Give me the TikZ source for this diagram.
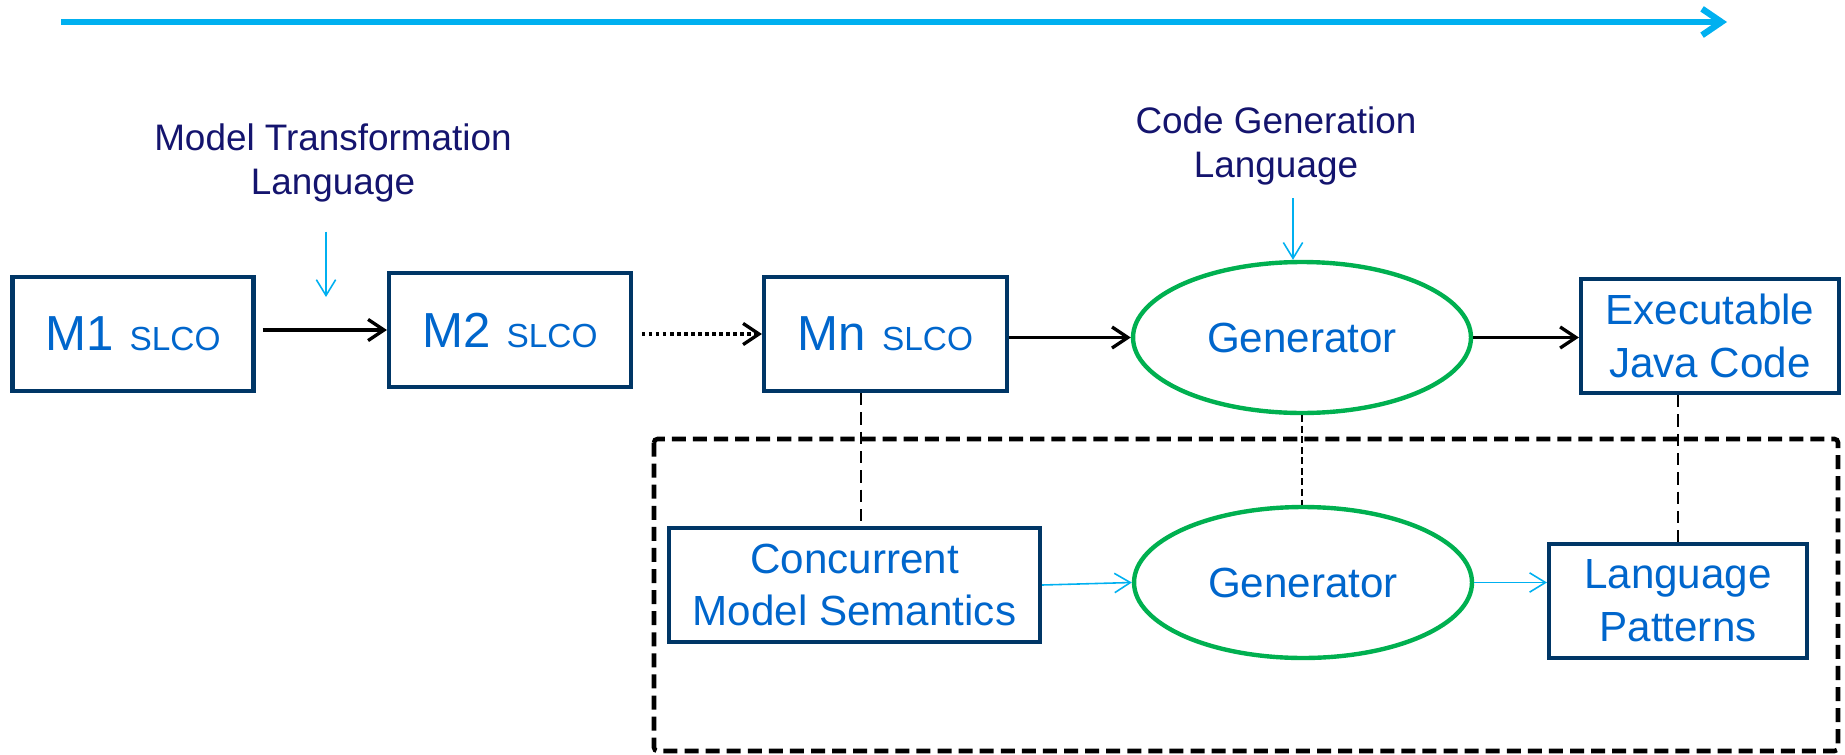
\documentclass[tikz,border=0pt]{standalone}
\usepackage{fontspec}
\setmainfont{Liberation Sans}
\usetikzlibrary{arrows.meta}
\usetikzlibrary{shapes.geometric}
\usetikzlibrary{positioning}
\definecolor{boxnavy}{RGB}{0,54,102}
\definecolor{txtblue}{RGB}{0,102,204}
\definecolor{lblnavy}{RGB}{20,20,110}
\definecolor{gengreen}{RGB}{0,176,80}
\definecolor{lineblue}{RGB}{0,176,240}
\tikzset{modelbox/.style={ % Blue framed boxes
           draw=boxnavy,
           line width=2.4pt,
           text=txtblue,
           align=center,
           inner sep=0pt,
           minimum height=2.28cm,
           font=\fontsize{24}{30}\selectfont},
         genell/.style={ % Green generator ellipses
           ellipse,
           draw=gengreen,
           line width=2.5pt,
           text=txtblue,
           inner sep=0pt,
           minimum width=6.76cm,
           minimum height=3.02cm,
           font=\fontsize{24}{30}\selectfont},
         lbl/.style={text=lblnavy, align=center, inner sep=0pt,
           font=\fontsize{21}{25}\selectfont},
         flow/.style={-{Straight Barb[length=9pt,width=12pt]}, line width=1.9pt},
         dotflow/.style={flow, dash pattern=on 2pt off 2pt},
         thinflow/.style={-{Straight Barb[length=9pt,width=11pt]}, draw=lineblue, line width=0.9pt},
         link/.style={dash pattern=on 7pt off 4pt, line width=1pt},
         frame/.style={dash pattern=on 8pt off 4pt, line width=2.6pt, rounded corners=2pt},
         timeline/.style={-{Straight Barb[length=11pt,width=15pt]}, draw=lineblue, line width=3.6pt}}

\newcommand{\slco}{{\fontsize{19}{19}\selectfont SLCO}}

\begin{document}
\begin{tikzpicture}[x=0.02cm,y=-0.02cm]
\useasboundingbox (0,0) rectangle (1845,754);

% time line on top
\coordinate (T0) at (61,22);
\coordinate (T1) at (1727,22);
\draw[timeline] (T0) -- (T1);

\begin{scope}[every node/.style={modelbox}]
    \node[minimum width=4.82cm] (M1) at (133,334) {\fontsize{28}{28}\selectfont M1\hspace{9pt}\slco};
    \node[minimum width=4.84cm] (M2) at (510,330) {\fontsize{28}{28}\selectfont M2\hspace{9pt}\slco};
    \node[minimum width=4.86cm] (Mn) at (885.5,334) {\fontsize{28}{28}\selectfont Mn\hspace{9pt}\slco};
    \node[minimum width=5.16cm] (Java) at (1710,336) {Executable\\Java Code};
    \node[minimum width=7.42cm] (Sem) at (854.5,585) {Concurrent\\Model Semantics};
    \node[minimum width=5.16cm] (Pat) at (1678,601) {Language\\Patterns};
\end{scope}

\node[genell] (Gen) at (1302,337.5) {Generator};
\node[genell] (Gen2) at (1303,582.5) {Generator};

\node[lbl] (MTL) at (333,163) {Model Transformation\\Language};
\node[lbl] (CGL) at (1276,145.5) {Code Generation\\Language};

% model chain
\draw[flow] ([xshift=4pt]M1.east |- M2.west) -- (M2.west);
\draw[dotflow] ([xshift=5pt]M2.east |- Mn.west) -- (Mn.west);
\draw[flow] (Mn.east |- Gen.west) -- (Gen.west);
\draw[flow] (Gen.east) -- (Gen.east -| Java.west);

% language inputs
\coordinate (mtlTip) at (326,297);
\draw[thinflow, shorten <=0.58cm] (MTL.south -| mtlTip) -- (mtlTip);
\coordinate (cglTip) at ([xshift=-0.18cm]Gen.north);
\draw[thinflow, shorten <=0.26cm] (CGL.south -| cglTip) -- (cglTip);

% generator of the generator
\draw[frame] (654,439) rectangle (1838,751);
\draw[thinflow] (Sem.east) -- (Gen2.west);
\draw[thinflow] (Gen2.east) -- (Gen2.east -| Pat.west);

% dashed links
\draw[link] ([xshift=-0.49cm]Mn.south) -- ([xshift=-0.49cm]Mn.south |- Sem.north);
\draw[link, dash pattern=on 4pt off 2pt] (Gen.south) -- (Gen.south |- Gen2.north);
\draw[link] (Pat.north |- Java.south) -- (Pat.north);
\end{tikzpicture}
\end{document}
